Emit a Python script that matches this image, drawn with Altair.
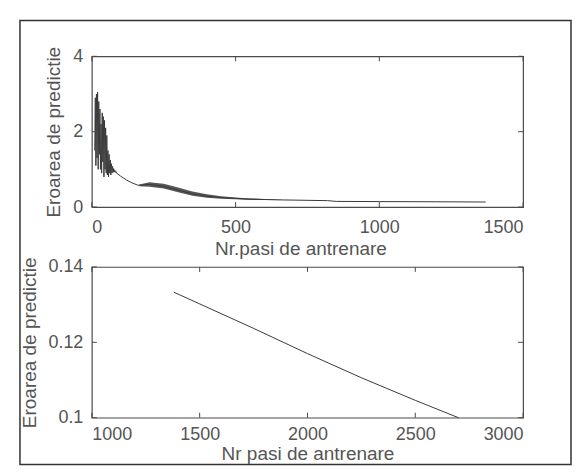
import altair as alt
import pandas as pd

FONT = "Liberation Sans"
TXT = "#555555"
LINE = "#3a3a3a"
FRAME = "#4a4a4a"
OUTER = "#333333"

# ---------------- top panel data ----------------
osc_x = [10, 12, 14, 16, 18, 20, 22, 24, 26, 28, 30, 32, 34, 36, 38, 40, 42, 44, 46, 48,
         50, 52, 54, 56, 58, 60, 62, 64, 66, 68, 70, 72, 74, 76, 78, 80, 82, 84, 86]
osc_y = [1.5, 2.9, 1.1, 3.0, 1.3, 3.05, 1.0, 2.8, 1.4, 2.6, 1.0, 2.2, 0.9, 2.5, 1.2, 2.4, 0.8, 2.3, 1.0, 2.1,
         0.9, 1.9, 0.85, 1.5, 0.8, 1.4, 0.9, 1.25, 0.85, 1.15, 0.9, 1.08, 0.92, 1.02, 0.93, 0.98, 0.92, 0.94, 0.9]
trend_x = [100, 120, 140, 160, 170, 200, 250, 300, 350, 400, 450, 500, 550, 600, 650, 700, 820, 850, 1000, 1200, 1370]
trend_y = [0.82, 0.72, 0.64, 0.58, 0.58, 0.6, 0.55, 0.45, 0.35, 0.29, 0.25, 0.23, 0.21, 0.2, 0.19, 0.185, 0.17, 0.15, 0.145, 0.14, 0.134]

band_x = [165, 200, 250, 300, 350, 400, 450, 500, 550, 600, 660]
band_lo = [0.55, 0.54, 0.49, 0.39, 0.30, 0.25, 0.22, 0.205, 0.19, 0.185, 0.185]
band_hi = [0.60, 0.66, 0.62, 0.52, 0.41, 0.34, 0.29, 0.255, 0.23, 0.215, 0.195]

top_xticks = [0, 500, 1000, 1500]
top_yticks = [0, 2, 4]

# ---------------- bottom panel data ----------------
bot_x = [1380, 1500, 1750, 2000, 2250, 2500, 2700]
bot_y = [0.1333, 0.1302, 0.1237, 0.1170, 0.1106, 0.1046, 0.1000]
bot_xticks = [1000, 1500, 2000, 2500, 3000]
bot_yticks = [0.1, 0.12, 0.14]

X_TITLE = "Nr.pasi de antrenare"
X_TITLE_B = "Nr pasi de antrenare"
Y_TITLE = "Eroarea de predictie"

W, H = 432, 151
TICK = 5
FRAME_W, FRAME_H = 552, 445

axis_common = dict(domain=False, ticks=False, grid=False,
                   labelFont=FONT, labelFontSize=18, labelColor=TXT,
                   titleFont=FONT, titleFontSize=19, titleColor=TXT,
                   titleFontWeight="normal")


def panel(line_df, xdom, ydom, xticks, yticks, xfmt, yfmt, xtitle, xlabel_pad, xtitle_pad,
          ytitle_pad, extra_layers=None, title_x=None, frame=False):
    xs = alt.Scale(domain=xdom, nice=False, zero=False)
    ys = alt.Scale(domain=ydom, nice=False, zero=False)
    xaxis_kw = dict(values=xticks, format=xfmt, title=xtitle, labelPadding=xlabel_pad,
                    titlePadding=xtitle_pad, **axis_common)
    if title_x is not None:
        xaxis_kw["titleX"] = title_x
    xax = alt.Axis(**xaxis_kw)
    yax = alt.Axis(values=yticks, format=yfmt, title=Y_TITLE, labelPadding=9,
                   titlePadding=ytitle_pad, **axis_common)
    X = lambda: alt.X("x:Q", scale=xs, axis=xax)
    Y = lambda: alt.Y("y:Q", scale=ys, axis=yax)

    layers = [alt.Chart(line_df).mark_line(color=LINE, strokeWidth=1).encode(x=X(), y=Y())]
    if extra_layers:
        for df in extra_layers:
            layers.append(
                alt.Chart(df).mark_area(color=LINE, opacity=0.85).encode(
                    x=X(), y=Y(), y2="y2:Q")
            )
    xt = pd.DataFrame({"x": xticks})
    yt = pd.DataFrame({"y": yticks})
    layers.append(alt.Chart(xt).mark_rule(color=FRAME, strokeWidth=1).encode(
        x=X(), y=alt.value(H), y2=alt.value(H - TICK)))
    layers.append(alt.Chart(xt).mark_rule(color=FRAME, strokeWidth=1).encode(
        x=X(), y=alt.value(0), y2=alt.value(TICK)))
    layers.append(alt.Chart(yt).mark_rule(color=FRAME, strokeWidth=1).encode(
        y=Y(), x=alt.value(0), x2=alt.value(TICK)))
    layers.append(alt.Chart(yt).mark_rule(color=FRAME, strokeWidth=1).encode(
        y=Y(), x=alt.value(W), x2=alt.value(W - TICK)))
    if frame:
        layers.append(alt.Chart(pd.DataFrame({"f": [0]})).mark_rect(
            fillOpacity=0, stroke=OUTER, strokeWidth=1.5).encode(
            x=alt.value(-72), x2=alt.value(-72 + FRAME_W),
            y=alt.value(-36), y2=alt.value(-36 + FRAME_H)))
    return alt.layer(*layers).properties(width=W, height=H)


top_df = pd.DataFrame({"x": osc_x + trend_x, "y": osc_y + trend_y})
band_df = pd.DataFrame({"x": band_x, "y": band_lo, "y2": band_hi})
bot_df = pd.DataFrame({"x": bot_x, "y": bot_y})

top = panel(top_df, [0, 1500], [0, 4], top_xticks, top_yticks, "d", "d",
            X_TITLE, 11, 4, 9, extra_layers=[band_df], title_x=209, frame=True)
bottom = panel(bot_df, [1000, 3000], [0.1, 0.14], bot_xticks, bot_yticks, "d", ".2~f",
               X_TITLE_B, 8, 1, 8)

chart = alt.vconcat(top, bottom, spacing=60, bounds="flush").properties(
    padding={"left": 10, "top": 10, "right": 0, "bottom": 0},
    background="white",
).configure_view(stroke=FRAME, strokeWidth=1.2)

chart.save("out.html", embed_options={"renderer": "svg", "actions": False})
